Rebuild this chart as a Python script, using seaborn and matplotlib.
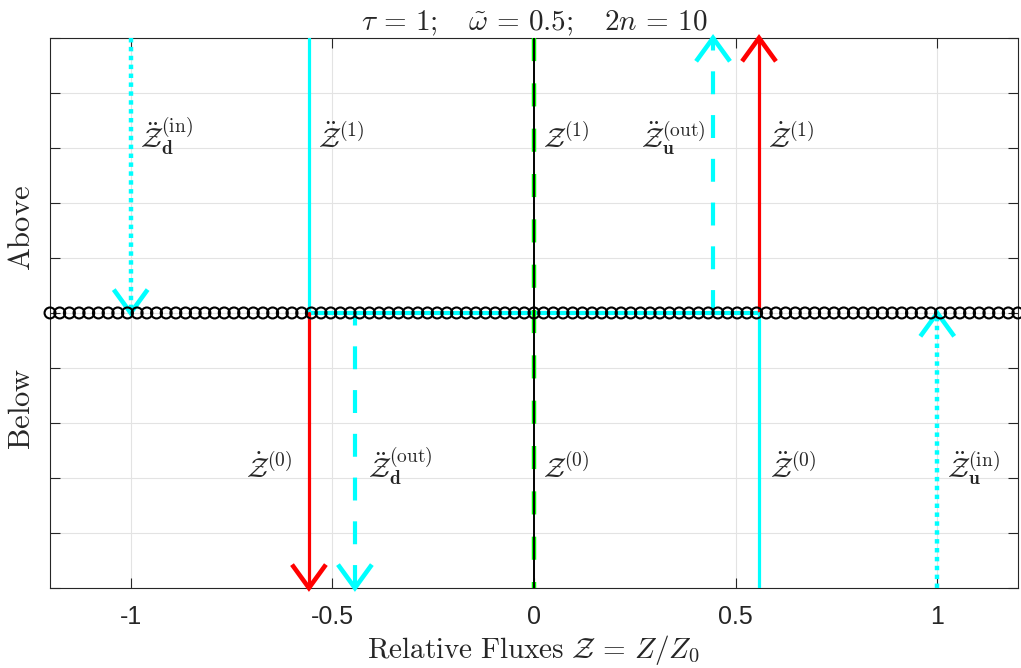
import numpy as np
import matplotlib
matplotlib.use("Agg")
import matplotlib.pyplot as plt
import seaborn as sns

# Grid of relative-flux positions sampled along the reference level
flux_grid = np.linspace(-1.2, 1.2, 101)

# Flux components: horizontal position, start and end heights (above > 0, below < 0)
flux_x = [-1.0, -0.558, -0.558, -0.444, 0.0, 0.444, 0.558, 0.558, 1.0]
flux_y0 = [1.0, 1.0, 0.0, -1.0, 1.0, 0.0, 0.0, 0.0, -1.0]
flux_y1 = [0.0, 0.0, -1.0, 0.0, -1.0, 1.0, 1.0, -1.0, 0.0]
# Which end carries an arrow tip (1: end point, -1: start point, 0: none)
flux_tip = [1, 0, 1, -1, 0, 1, 1, 0, 1]

# Label text and anchor for each component
label_text = [
    r"$\ddot{\mathcal{Z}}_{\mathbf{d}}^{(\mathrm{in})}$",
    r"$\ddot{\mathcal{Z}}^{(1)}$",
    r"$\dot{\mathcal{Z}}^{(0)}$",
    r"$\ddot{\mathcal{Z}}_{\mathbf{d}}^{(\mathrm{out})}$",
    r"$\mathcal{Z}^{(1)}$",
    r"$\ddot{\mathcal{Z}}_{\mathbf{u}}^{(\mathrm{out})}$",
    r"$\dot{\mathcal{Z}}^{(1)}$",
    r"$\ddot{\mathcal{Z}}^{(0)}$",
    r"$\ddot{\mathcal{Z}}_{\mathbf{u}}^{(\mathrm{in})}$",
    r"$\mathcal{Z}^{(0)}$",
]
label_x = [-0.977, -0.535, -0.714, -0.411, 0.022, 0.265, 0.58, 0.585, 1.024, 0.022]
label_y = [0.60, 0.60, -0.60, -0.60, 0.60, 0.60, 0.60, -0.60, -0.60, -0.60]

# Span of the mixed flux along the reference level
mixed_span = [-0.558, 0.558]

xtick_vals = [-1, -0.5, 0, 0.5, 1]
xtick_text = ["-1", "-0.5", "0", "0.5", "1"]
ytick_vals = [-1, -0.8, -0.6, -0.4, -0.2, 0, 0.2, 0.4, 0.6, 0.8, 1]

sns.set_theme(style="white")
plt.rcParams["mathtext.fontset"] = "cm"
plt.rcParams["font.family"] = ["Liberation Sans", "DejaVu Sans"]

CYAN = "#00ffff"
RED = "#ff0000"
GREEN = "#00ff00"
AX_COL = "#262626"

fig = plt.figure(figsize=(10.21, 6.68), dpi=100)
ax = fig.add_axes([0.049, 0.1198, 0.948, 0.8234])

ax.set_xlim(-1.2, 1.2)
ax.set_ylim(-1, 1)

# grid
ax.set_xticks(xtick_vals)
ax.set_xticklabels(xtick_text)
ax.set_yticks(ytick_vals)
ax.set_yticklabels([])
ax.grid(True, color="#e3e3e3", lw=0.8)
ax.set_axisbelow(True)

styles = [
    dict(color=CYAN, lw=3.2, ls=(0, (1.0, 1.0))),
    dict(color=CYAN, lw=2.3, ls="-"),
    dict(color=RED, lw=2.3, ls="-"),
    dict(color=CYAN, lw=3.0, ls=(0, (5.5, 5.0))),
    dict(color=GREEN, lw=3.2, ls=(0, (5.2, 5.0))),
    dict(color=CYAN, lw=3.0, ls=(0, (5.5, 5.0))),
    dict(color=RED, lw=2.3, ls="-"),
    dict(color=CYAN, lw=2.3, ls="-"),
    dict(color=CYAN, lw=3.2, ls=(0, (1.0, 1.0))),
]
head_color = [CYAN, None, RED, CYAN, None, CYAN, RED, None, CYAN]

# mixed flux along the level, underneath the grid markers
sns.lineplot(x=mixed_span, y=[0, 0], color=CYAN, lw=3.0, ax=ax,
             estimator=None, sort=False, zorder=3)

for i in range(len(flux_x)):
    st = styles[i]
    sns.lineplot(x=[flux_x[i], flux_x[i]], y=[flux_y0[i], flux_y1[i]],
                 color=st["color"], lw=st["lw"], linestyle=st["ls"],
                 ax=ax, estimator=None, sort=False, orient="y", zorder=4)
    if flux_tip[i] != 0:
        if flux_tip[i] == 1:
            tip, tail = flux_y1[i], flux_y0[i]
        else:
            tip, tail = flux_y0[i], flux_y1[i]
        back = 0.085 * np.sign(tail - tip)
        hw = 0.042
        ax.plot([flux_x[i] - hw, flux_x[i], flux_x[i] + hw],
                [tip + back, tip, tip + back],
                color=head_color[i], lw=3.3, solid_joinstyle="miter",
                solid_capstyle="butt", zorder=5, clip_on=False)

# total flux at the centre, drawn over the dashed line
sns.lineplot(x=[0, 0], y=[1, -1], color="black", lw=1.4, ax=ax,
             estimator=None, sort=False, orient="y", zorder=6)

# grid markers along the reference level
sns.scatterplot(x=flux_grid, y=np.zeros_like(flux_grid), ax=ax,
                marker="o", s=62, facecolor="none", edgecolor="black",
                linewidth=1.5, zorder=7, clip_on=False)

for t, x, y in zip(label_text, label_x, label_y):
    ax.text(x, y, t, fontsize=20, ha="left", va="baseline", zorder=8)

ax.text(-0.029, 0.31, r"$\mathrm{Above}$", transform=ax.get_yaxis_transform(),
        rotation=90, ha="center", va="center", fontsize=22)
ax.text(-0.029, -0.35, r"$\mathrm{Below}$", transform=ax.get_yaxis_transform(),
        rotation=90, ha="center", va="center", fontsize=22)

ax.set_title(r"$\tau \,=\, 1;\quad \tilde{\omega} \,=\, 0.5;\quad 2n \,=\, 10$",
             fontsize=21, pad=3)
ax.set_xlabel(r"$\mathrm{Relative\ Fluxes}\ \mathcal{Z} \,=\, Z/Z_0$",
              fontsize=21, labelpad=3)
ax.set_ylabel("")

ax.tick_params(axis="both", which="both", direction="in", top=True,
               right=True, bottom=True, left=True, length=7, width=0.8,
               color=AX_COL, labelsize=18, labelcolor=AX_COL)
ax.tick_params(axis="x", pad=12)
for sp in ax.spines.values():
    sp.set_visible(True)
    sp.set_color(AX_COL)
    sp.set_linewidth(0.8)

fig.savefig("out.png", dpi=100)
